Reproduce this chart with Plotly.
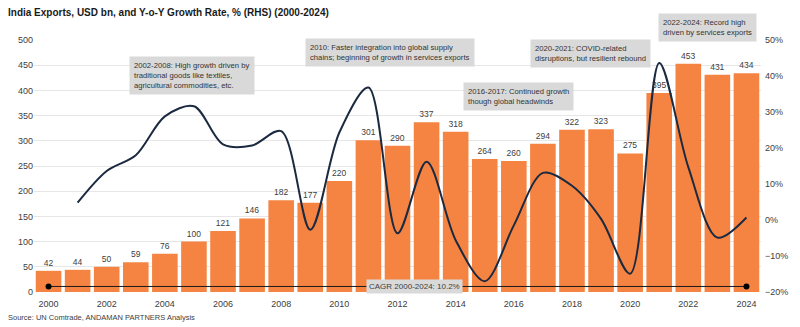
import plotly.graph_objects as go

# India exports (USD bn) and year-on-year growth (%)
years = list(range(2000, 2025))
exports = [42, 44, 50, 59, 76, 100, 121, 146, 182, 177, 220, 301, 290,
           337, 318, 264, 260, 294, 322, 323, 275, 395, 453, 431, 434]
growth_years = list(range(2001, 2025))
growth = [4.8, 13.6, 18.0, 28.8, 31.6, 21.0, 20.7, 24.7, -2.7, 24.3, 36.8,
          -3.7, 16.2, -5.6, -17.0, -1.5, 13.1, 9.5, 0.3, -14.9, 43.6, 14.7,
          -4.9, 0.7]
cagr_years = [2000, 2024]
cagr_level = [11, 11]
cagr_text = "CAGR 2000-2024: 10.2%"

# Callout boxes: (x in paper units, y in paper units, text), centred
notes = [
    (0.218, 0.861, "2002-2008: High growth driven by<br>traditional goods like textiles,<br>agricultural commodities, etc."),
    (0.489, 0.952, "2010: Faster integration into global supply<br>chains; beginning of growth in services exports"),
    (0.667, 0.776, "2016-2017: Continued growth<br>though global headwinds"),
    (0.766, 0.946, "2020-2021: COVID-related<br>disruptions, but resilient rebound"),
    (0.926, 1.048, "2022-2024: Record high<br>driven by services exports"),
]

FONT = "Liberation Sans, Arial, Helvetica, sans-serif"
ORANGE = "#F58442"
NAVY = "#1B2A41"
BOX = "#D9D9D9"

fig = go.Figure()

fig.add_trace(go.Bar(
    x=years, y=exports, marker=dict(color=ORANGE, line=dict(width=0)),
    text=[str(v) for v in exports], textposition="outside",
    textfont=dict(size=8.5, color="#404040", family=FONT),
    cliponaxis=False, yaxis="y", showlegend=False,
))

fig.add_trace(go.Scatter(
    x=growth_years, y=growth, mode="lines",
    line=dict(color=NAVY, width=2, shape="spline", smoothing=0.9),
    yaxis="y2", showlegend=False,
))

fig.add_trace(go.Scatter(
    x=cagr_years, y=cagr_level, mode="lines+markers",
    line=dict(color="#1A1A1A", width=1),
    marker=dict(color="#000000", size=6),
    yaxis="y", showlegend=False,
))

annotations = [
    dict(x=2012.6, y=11, xref="x", yref="y", text=cagr_text, showarrow=False,
         bgcolor=BOX, font=dict(size=8, color="#404040", family=FONT),
         borderpad=2)
]
for x, y, t in notes:
    annotations.append(dict(
        x=x, y=y, xref="paper", yref="paper", xanchor="center",
        yanchor="middle", text=t, showarrow=False,
        align="left", bgcolor=BOX, borderpad=4,
        font=dict(size=7.7, color="#333333", family=FONT),
    ))

annotations.append(dict(
    x=-0.039, y=1.111, xref="paper", yref="paper", xanchor="left",
    yanchor="middle",
    text="<b>India Exports, USD bn, and Y-o-Y Growth Rate, % (RHS) (2000-2024)</b>",
    showarrow=False, font=dict(size=10, color="#1A1A1A", family=FONT),
))
annotations.append(dict(
    x=-0.039, y=-0.103, xref="paper", yref="paper", xanchor="left",
    yanchor="middle",
    text="Source: UN Comtrade, ANDAMAN PARTNERS Analysis",
    showarrow=False, font=dict(size=7.5, color="#404040", family=FONT),
))

fig.update_layout(
    width=800, height=327,
    margin=dict(l=34, r=30, t=40, b=35),
    paper_bgcolor="white", plot_bgcolor="white",
    bargap=0.12,
    font=dict(family=FONT, size=9, color="#404040"),
    xaxis=dict(
        range=[1999.5, 2024.5], tickmode="array",
        tickvals=list(range(2000, 2025, 2)),
        ticktext=[str(y) for y in range(2000, 2025, 2)],
        showgrid=False, zeroline=False, showline=False, ticks="",
        ticklabelstandoff=5,
        tickfont=dict(size=9, color="#404040"),
    ),
    yaxis=dict(
        range=[0, 500], dtick=50, showgrid=True, gridcolor="#E6E6E6",
        gridwidth=1, zeroline=False, showline=False, ticks="",
        tickfont=dict(size=9, color="#404040"),
    ),
    yaxis2=dict(
        range=[-20, 50], dtick=10, overlaying="y", side="right",
        ticksuffix="%", showgrid=False, zeroline=False, showline=False,
        ticks="", ticklabelstandoff=3, tickfont=dict(size=9, color="#404040"),
    ),
    annotations=annotations,
)

fig.write_html("out.html")
